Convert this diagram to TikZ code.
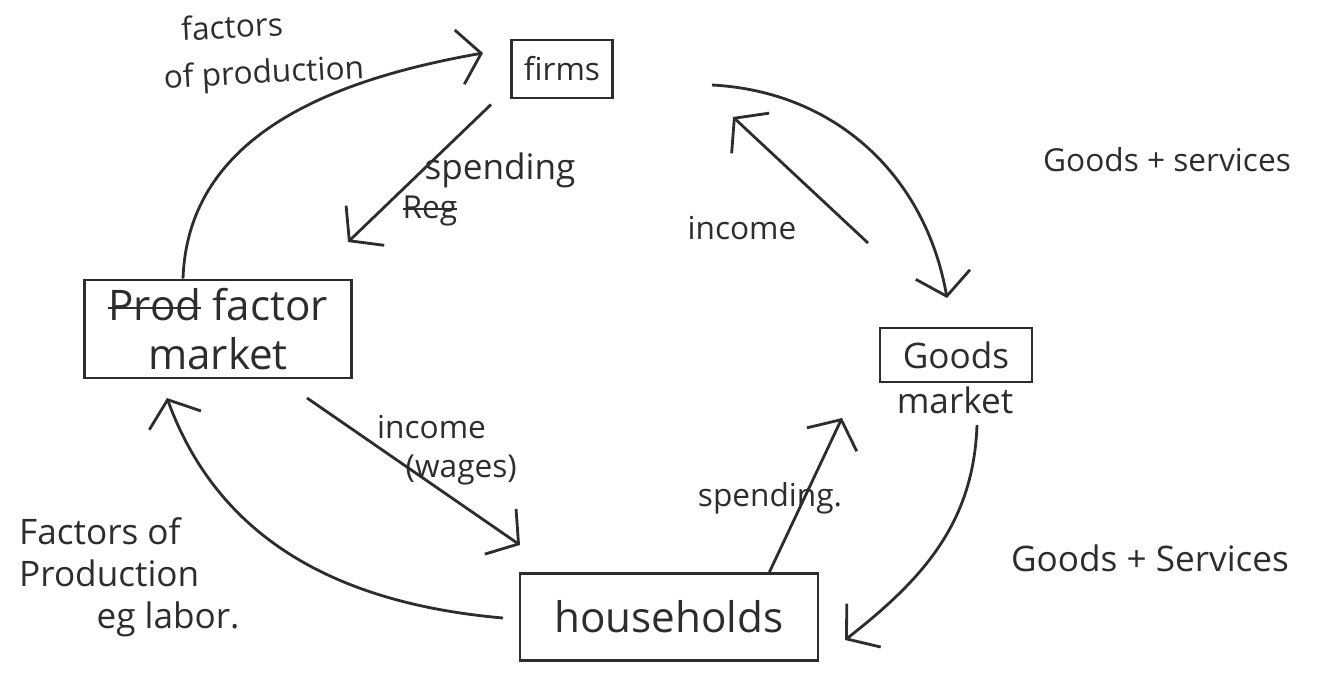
\documentclass[tikz,border=0pt]{standalone}
\usepackage{fontspec}
\setmainfont{Open Sans}
\usetikzlibrary{arrows.meta}
\definecolor{pencil}{RGB}{45,45,45}
\newsavebox{\strkbox}
\newcommand{\strk}[1]{\sbox{\strkbox}{#1}\rlap{\usebox{\strkbox}}\rule[0.5ex]{\wd\strkbox}{0.6pt}}

\begin{document}
\begin{tikzpicture}[x=0.1mm, y=0.1mm, font=\normalsize, >={Straight Barb[length=2.2mm,width=5.5mm]},
  box/.style={draw=pencil, thick, align=center, inner sep=2pt, text=pencil},
  lbl/.style={align=center, text=pencil, inner sep=1pt},
  flow/.style={->, thick, draw=pencil}]
  \useasboundingbox (0,0) rectangle (1324,677);
  % markets, firms and households
  \node[box, font=\small, minimum width=10.1mm, minimum height=5.8mm] (F) at (562,608) {firms};
  \node[box, font=\large, minimum width=26.7mm, minimum height=9.8mm] (FM) at (218,348) {\strk{Prod} factor\\ market};
  \node[box, minimum width=15.2mm, minimum height=5.4mm] (GM) at (956,322) {Goods};
  \node[lbl] (GMt) at (955,277) {market};
  \node[box, font=\large, minimum width=29.8mm, minimum height=8.7mm] (H) at (669,60) {households};
  % labels
  \node[lbl, font=\small, rotate=3] (fp1a) at (232,651) {factors};
  \node[lbl, font=\small, rotate=3] (fp1b) at (264,602) {of production};
  \node[lbl] (sp1) at (500,507) {spending};
  \node[lbl, font=\small] (rg) at (430,466) {\strk{Reg}};
  \node[lbl, font=\small] (in1) at (742,449) {income};
  \node[lbl, font=\small] (gs1) at (1167,517) {Goods + services};
  \node[lbl, font=\small, align=left] (in2) at (447,227) {income\\ \hspace{0.9em}(wages)};
  \node[lbl, font=\small] (sp2) at (770,179) {spending.};
  \node[lbl, align=left, anchor=west] (fp2) at (15,100) {Factors of\\ Production\\ \hspace{2.2em}eg labor.};
  \node[lbl] (gs2) at (1150,119) {Goods + Services};
  % free ends of the flows
  \coordinate (e1) at (483,624);
  \coordinate (e2) at (348,435);
  \coordinate (s3) at (868,434);
  \coordinate (e3) at (733,560);
  \coordinate (s4) at (712,592);
  \coordinate (e4) at (947,379);
  \coordinate (s5) at (307,279);
  \coordinate (e5) at (520,132);
  \coordinate (s6) at (503,59);
  \coordinate (e6) at (167,279);
  \coordinate (e7) at (842,259);
  \coordinate (s8) at (977,252);
  \coordinate (e8) at (845,37);
  % flows
  \draw[flow] ([xshift=-3.5mm]FM.north) to[out=88, in=190] (e1);
  \draw[flow] ([xshift=-1.9mm, yshift=-0.5mm]F.south west) -- (e2);
  \draw[flow] (s3) -- (e3);
  \draw[flow] (s4) to[out=-3, in=100] (e4);
  \draw[flow] (s5) -- (e5);
  \draw[flow] (s6) to[out=175, in=-70] (e6);
  \draw[flow] ([xshift=-5mm]H.north east) -- (e7);
  \draw[flow] (s8) to[out=-92, in=38] (e8);
\end{tikzpicture}
\end{document}
